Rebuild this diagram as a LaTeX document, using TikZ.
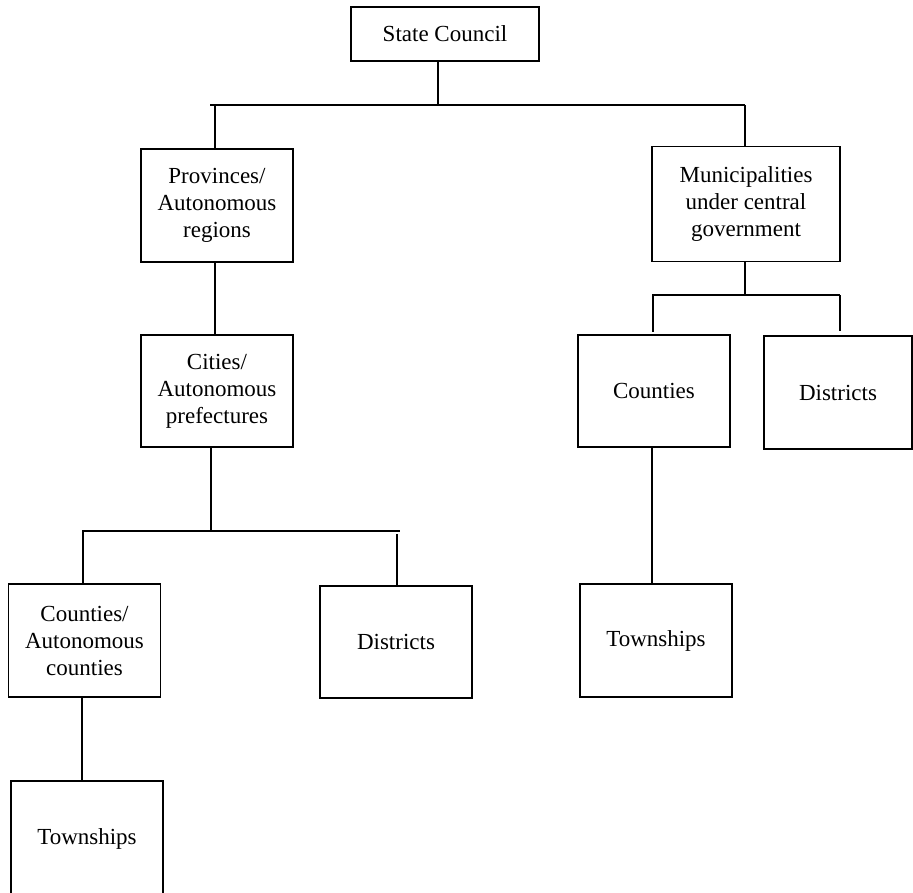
\documentclass[tikz,border=0pt]{standalone}
\usepackage{fontspec}
\setmainfont{Liberation Serif}
\begin{document}
\begin{tikzpicture}[x=1pt,y=-1pt,line width=1.9pt,
        box/.style={draw,align=center,inner sep=0pt,
          font=\fontsize{23}{27}\selectfont,
          minimum width=152pt,minimum height=113pt}]
        \useasboundingbox (0,0) rectangle (913,892);
        % top level
        \node[box,minimum width=188pt,minimum height=54pt] (state) at (445,34) {State Council};
        % left branch
        \node[box] (prov) at (217,205.5) {Provinces/\\Autonomous\\regions};
        \node[box,minimum height=112pt] (city) at (217,391) {Cities/\\Autonomous\\prefectures};
        \node[box] (cnty) at (84.5,640.5) {Counties/\\Autonomous\\counties};
        \node[box,minimum height=112pt] (dist) at (396,642) {Districts};
        \node[box,minimum height=116pt] (town) at (87,839) {Townships};
        % right branch
        \node[box,minimum width=188pt,minimum height=115pt] (muni) at (746,204) {Municipalities\\under central\\government};
        \node[box,minimum height=112pt] (mcnty) at (654,391) {Counties};
        \node[box,minimum width=148pt] (mdist) at (838,392.5) {Districts};
        \node[box] (mtown) at (656,640.5) {Townships};
        % bus lines
        \coordinate (b1) at (438,105);
        \coordinate (b2) at (211,531);
        \coordinate (b3) at (745,295);
        \draw (state.south -| b1) -- (b1);
        \draw (210,105) -- (745,105);
        \draw (prov.north -| 215,0) -- (215,105);
        \draw (muni.north -| 745,0) -- (745,105);
        \draw (prov.south -| 215,0) -- (city.north -| 215,0);
        \draw (city.south -| b2) -- (b2);
        \draw (82,531) -- (400,531);
        \draw (cnty.north -| 83,0) -- (83,531);
        \draw (dist.north -| 397,0) -- (397,534);
        \draw (cnty.south -| 82,0) -- (town.north -| 82,0);
        \draw (muni.south -| b3) -- (b3);
        \draw (652,295) -- (840,295);
        \draw (653,295) -- (653,332);
        \draw (840,295) -- (840,331);
        \draw (mcnty.south -| 652,0) -- (mtown.north -| 652,0);
\end{tikzpicture}
\end{document}
